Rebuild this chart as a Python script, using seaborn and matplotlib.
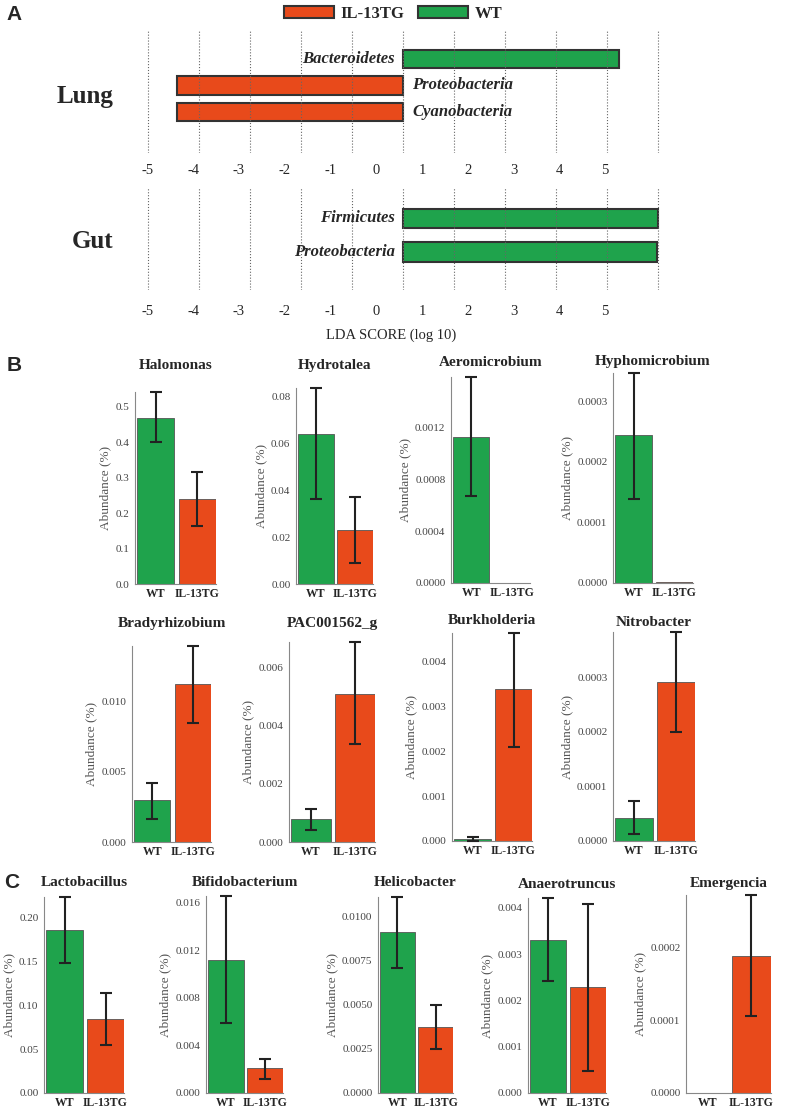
import numpy as np
import pandas as pd
import matplotlib
matplotlib.use("Agg")
import matplotlib.pyplot as plt
import seaborn as sns
from matplotlib.patches import Patch

# ---- data ----
group_colors = {"IL-13TG": "#E84A1B", "WT": "#1FA34C"}

lung_taxa = ["Bacteroidetes", "Proteobacteria", "Cyanobacteria"]
lung_group = ["WT", "IL-13TG", "IL-13TG"]
lung_lda = [4.24, -4.43, -4.43]

gut_taxa = ["Firmicutes", "Proteobacteria"]
gut_group = ["WT", "WT"]
gut_lda = [5.0, 4.98]

lda_tick_labels = [-5, -4, -3, -2, -1, 0, 1, 2, 3, 4, 5]

b_genera = ["Halomonas", "Hydrotalea", "Aeromicrobium", "Hyphomicrobium",
            "Bradyrhizobium", "PAC001562_g", "Burkholderia", "Nitrobacter"]
b_wt_mean = [0.469, 0.0639, 0.00113, 0.000244, 0.00298, 0.000786, 0.000045, 0.000043]
b_wt_low = [0.400, 0.0364, 0.000673, 0.000138, 0.00164, 0.000405, 0.00001, 0.000012]
b_wt_high = [0.542, 0.0836, 0.001593, 0.000347, 0.00424, 0.00114, 0.0001, 0.000073]
b_tg_mean = [0.240, 0.0229, 0.000003, 0.000001, 0.01124, 0.0051, 0.00338, 0.000292]
b_tg_low = [0.164, 0.0091, 0.000003, 0.000001, 0.00852, 0.00335, 0.0021, 0.000200]
b_tg_high = [0.316, 0.0369, 0.000003, 0.000001, 0.01398, 0.00687, 0.00464, 0.000383]
b_yticks = [
    ["0.0", "0.1", "0.2", "0.3", "0.4", "0.5"],
    ["0.00", "0.02", "0.04", "0.06", "0.08"],
    ["0.0000", "0.0004", "0.0008", "0.0012"],
    ["0.0000", "0.0001", "0.0002", "0.0003"],
    ["0.000", "0.005", "0.010"],
    ["0.000", "0.002", "0.004", "0.006"],
    ["0.000", "0.001", "0.002", "0.003", "0.004"],
    ["0.0000", "0.0001", "0.0002", "0.0003"],
]

c_genera = ["Lactobacillus", "Bifidobacterium", "Helicobacter", "Anaerotruncus", "Emergencia"]
c_wt_mean = [0.1856, 0.01122, 0.0091, 0.003315, 0.0000005]
c_wt_low = [0.1477, 0.00592, 0.0071, 0.002414, 0.0000005]
c_wt_high = [0.2235, 0.01656, 0.0111, 0.004216, 0.0000005]
c_tg_mean = [0.0848, 0.00207, 0.00372, 0.002292, 0.0001885]
c_tg_low = [0.0553, 0.00117, 0.00247, 0.000483, 0.0001057]
c_tg_high = [0.1136, 0.00288, 0.00498, 0.004094, 0.0002726]
c_yticks = [
    ["0.00", "0.05", "0.10", "0.15", "0.20"],
    ["0.000", "0.004", "0.008", "0.012", "0.016"],
    ["0.0000", "0.0025", "0.0050", "0.0075", "0.0100"],
    ["0.000", "0.001", "0.002", "0.003", "0.004"],
    ["0.0000", "0.0001", "0.0002"],
]

# ---- layout (pixels) ----
W, H = 787, 1113
b_boxes = [(135, 216, 392, 584), (296, 373, 388, 584), (451, 530, 377, 583), (613, 693, 373, 583),
           (132, 211, 646, 842), (289, 375, 642, 842), (452, 532, 633, 841), (613, 695, 632, 841)]
b_title_y = [365, 365, 363, 361, 623, 623, 621, 622]
c_boxes = [(44, 124, 897, 1093), (206, 283, 896, 1093), (378, 453, 897, 1093),
           (528, 606, 898, 1093), (686, 771, 895, 1093)]
c_title_y = [883, 883, 883, 884, 884]

sns.set_style("white")
plt.rcParams["font.family"] = "serif"
plt.rcParams["font.serif"] = ["Liberation Serif", "DejaVu Serif"]

fig = plt.figure(figsize=(W / 100, H / 100), dpi=100)


def px_axes(left, right, top, bottom):
    return fig.add_axes([left / W, 1 - bottom / H, (right - left) / W, (bottom - top) / H])


def fx(x):
    return x / W


def fy(y):
    return 1 - y / H


# ---- panel A ----
grid_step = 51.0
zero_px = 403.0


def lda_panel(top, bottom, taxa, groups, scores, ylim, bar_w, tick_pad):
    ax = px_axes(zero_px - 5.3 * grid_step, zero_px + 5.3 * grid_step, top, bottom)
    df = pd.DataFrame({"taxon": taxa, "group": groups, "lda": scores})
    sns.barplot(
        data=df, x="lda", y="taxon", hue="group", order=taxa,
        palette=group_colors, dodge=False, width=bar_w, saturation=1,
        edgecolor="#333333", linewidth=1.5, legend=False, orient="h", ax=ax
    )
    for g in range(-5, 6):
        ax.axvline(g, color="#666666", linestyle=":", linewidth=0.8, zorder=3)
    for i, (t, s) in enumerate(zip(taxa, scores)):
        if s > 0:
            ax.text(-0.16, i, t, ha="right", va="center", fontsize=12,
                    fontweight="bold", fontstyle="italic")
        else:
            ax.text(0.18, i, t, ha="left", va="center", fontsize=12,
                    fontweight="bold", fontstyle="italic")
    ax.set_xlim(-5.3, 5.3)
    ax.set_ylim(*ylim)
    # tick labels sit on their own (slightly narrower) scale, as in the source figure
    tick_pos = [(v * 45.75 + 376.25 - zero_px) / grid_step for v in lda_tick_labels]
    ax.set_xticks(tick_pos, [str(v) for v in lda_tick_labels])
    ax.set_yticks([])
    ax.tick_params(axis="x", length=0, pad=tick_pad, labelsize=10.5)
    ax.set_xlabel("")
    ax.set_ylabel("")
    for sp in ax.spines.values():
        sp.set_visible(False)
    ax.patch.set_alpha(0)
    return ax


lda_panel(30, 153, lung_taxa, lung_group, lung_lda, (3.547, -1.094), 0.68, 8)
lda_panel(188, 290, gut_taxa, gut_group, gut_lda, (2.134, -0.91), 0.57, 11)

fig.text(fx(113), fy(97), "Lung", ha="right", va="center", fontsize=18, fontweight="bold")
fig.text(fx(113), fy(242), "Gut", ha="right", va="center", fontsize=18, fontweight="bold")
fig.text(fx(391), fy(335), "LDA SCORE (log 10)", ha="center", va="center", fontsize=10.5)

handles = [Patch(facecolor=group_colors[g], edgecolor="#333333", linewidth=1.5) for g in ["IL-13TG", "WT"]]
fig.legend(handles, ["IL-13TG", "WT"], loc="center", bbox_to_anchor=(fx(393), fy(14)),
           ncol=2, frameon=False, handlelength=3.0, handleheight=0.75, columnspacing=0.8,
           handletextpad=0.4, prop={"weight": "bold", "size": 12, "family": "serif"})


# ---- panels B and C ----
def abundance_panel(box, title, title_y, wt, tg, ticks):
    ax = px_axes(*box)
    means = [wt[0], tg[0]]
    df = pd.DataFrame({"group": ["WT", "IL-13TG"], "value": means})
    sns.barplot(data=df, x="group", y="value", hue="group", palette=group_colors,
                width=0.9, saturation=1, edgecolor="#555555", linewidth=0.6,
                legend=False, ax=ax)
    lows = [means[0] - wt[1], means[1] - tg[1]]
    highs = [wt[2] - means[0], tg[2] - means[1]]
    show = [k for k in range(2) if highs[k] > 0]
    if show:
        cont = ax.errorbar(show, [means[k] for k in show],
                           yerr=[[lows[k] for k in show], [highs[k] for k in show]],
                           fmt="none", ecolor="#222222", elinewidth=1.5,
                           capsize=4, capthick=1.5, zorder=4)
        for art in cont.get_children():
            art.set_clip_on(False)
    ax.set_xlim(-0.5, 1.45)
    ax.set_ylim(0, max(wt[2], tg[2]))
    ax.set_yticks([float(t) for t in ticks], ticks)
    ax.tick_params(axis="y", length=2.5, width=0.8, color="#888888", pad=1.5,
                   labelsize=8, labelcolor="#444444")
    ax.tick_params(axis="x", length=0, pad=3, labelsize=8.5)
    for lab in ax.get_xticklabels():
        lab.set_fontweight("bold")
    ax.set_xlabel("")
    ax.set_ylabel("Abundance (%)", fontsize=9.5, color="#555555", labelpad=3)
    for sp in ["top", "right"]:
        ax.spines[sp].set_visible(False)
    for sp in ["left", "bottom"]:
        ax.spines[sp].set_color("#888888")
        ax.spines[sp].set_linewidth(0.8)
    cx = (box[0] + box[1]) / 2
    fig.text(fx(cx), fy(title_y), title, ha="center", va="center",
             fontsize=11, fontweight="bold")


for i, name in enumerate(b_genera):
    abundance_panel(b_boxes[i], name, b_title_y[i],
                    (b_wt_mean[i], b_wt_low[i], b_wt_high[i]),
                    (b_tg_mean[i], b_tg_low[i], b_tg_high[i]), b_yticks[i])

for i, name in enumerate(c_genera):
    abundance_panel(c_boxes[i], name, c_title_y[i],
                    (c_wt_mean[i], c_wt_low[i], c_wt_high[i]),
                    (c_tg_mean[i], c_tg_low[i], c_tg_high[i]), c_yticks[i])

for lab, x, y in [("A", 14, 15), ("B", 14, 365), ("C", 12, 883)]:
    fig.text(fx(x), fy(y), lab, ha="center", va="center", fontsize=15,
             fontweight="bold", family="Liberation Sans")

fig.savefig("out.png", dpi=100)
